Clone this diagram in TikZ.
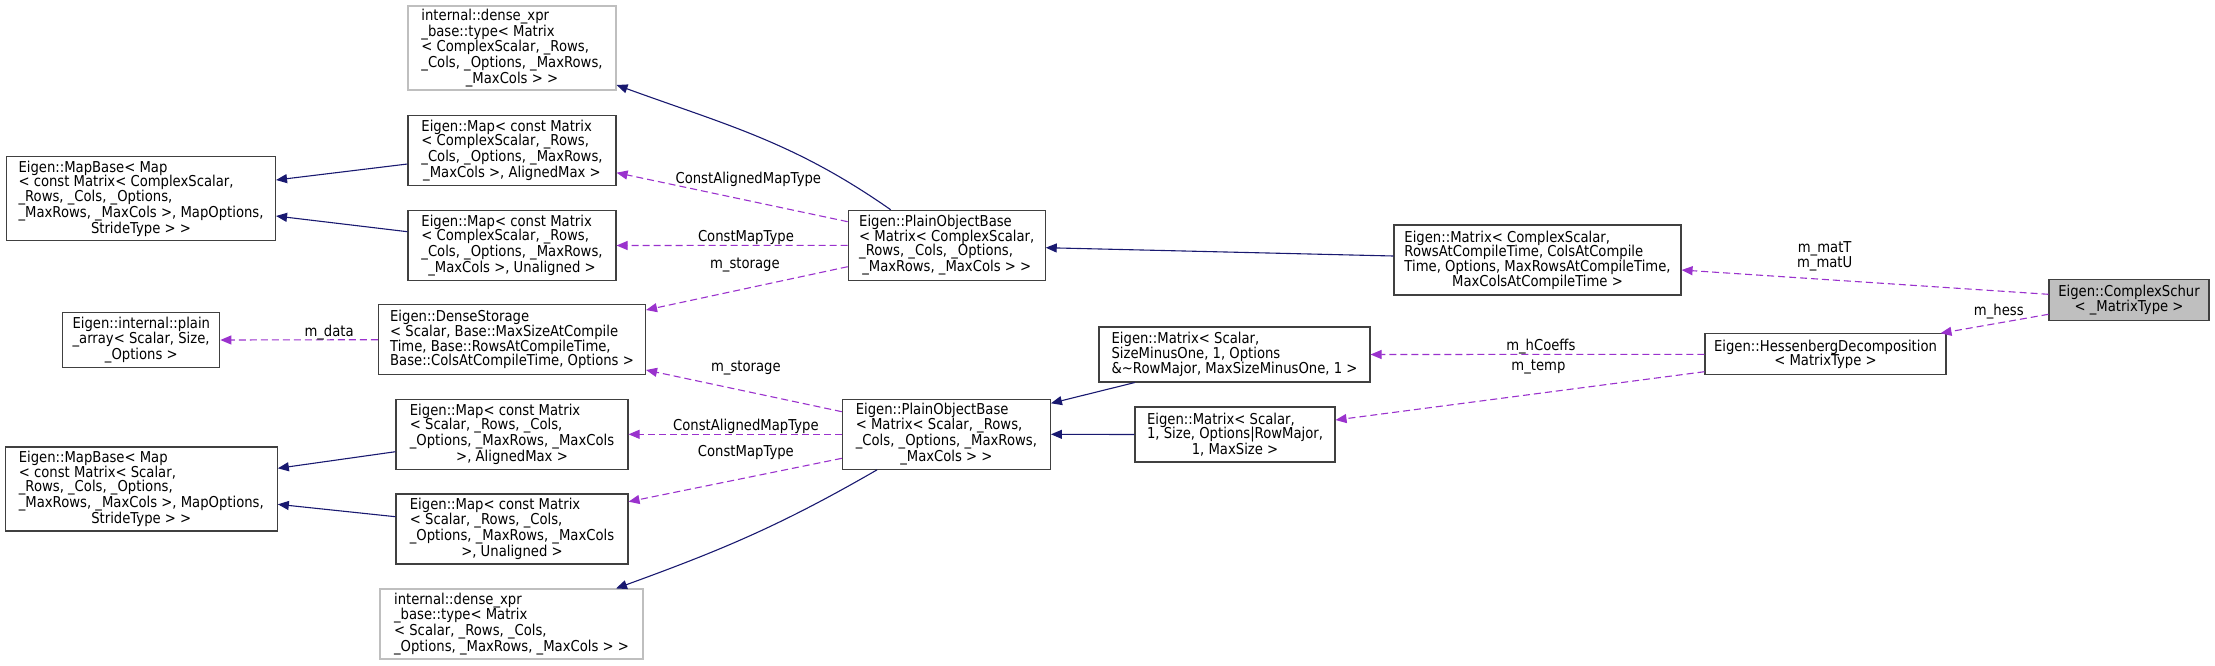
\documentclass[tikz,border=0pt]{standalone}
\usepackage{fontspec}
\setmainfont{DejaVu Sans}[FakeStretch=0.88]
\usetikzlibrary{arrows.meta}
\definecolor{inhblue}{HTML}{191970}
\definecolor{usepurple}{HTML}{9A32CD}
\definecolor{boxgray}{HTML}{BFBFBF}
\tikzset{
	classbox/.style={rectangle, draw=black!75, fill=white, line width=1.1pt, align=left,
		font=\fontsize{15}{14.7}\selectfont, inner sep=2pt},
	extbox/.style={classbox, draw=boxgray},
	focusbox/.style={classbox, fill=boxgray},
	inharr/.style={-{Triangle[length=11pt,width=9pt]}, inhblue, line width=1.1pt},
	usearr/.style={-{Triangle[length=11pt,width=9pt]}, usepurple, line width=1.1pt, dash pattern=on 7pt off 4pt},
	elabel/.style={font=\fontsize{15}{14.7}\selectfont, inner sep=0pt, align=center, text=black}
}

\begin{document}
\begin{tikzpicture}[x=1pt, y=-1pt]
	\useasboundingbox (0,0) rectangle (2215,665);
	% left column
	\node[classbox, minimum width=269pt, minimum height=84pt] (mapbase1) at (141,198.7) {Eigen::MapBase< Map\\< const Matrix< ComplexScalar,\\\_Rows, \_Cols, \_Options,\\\_MaxRows, \_MaxCols >, MapOptions,\\\hfill StrideType > >\hfill\null};
	\node[classbox, minimum width=157pt, minimum height=55pt] (plain) at (141.3,340) {Eigen::internal::plain\\\_array< Scalar, Size,\\\hfill\_Options >\hfill\null};
	\node[classbox, minimum width=272pt, minimum height=84pt] (mapbase2) at (141.3,489) {Eigen::MapBase< Map\\< const Matrix< Scalar,\\\_Rows, \_Cols, \_Options,\\\_MaxRows, \_MaxCols >, MapOptions,\\\hfill StrideType > >\hfill\null};
	% second column
	\node[extbox, minimum width=208pt, minimum height=84pt] (denseTop) at (512,48) {internal::dense\_xpr\\\_base::type< Matrix\\< ComplexScalar, \_Rows,\\\_Cols, \_Options, \_MaxRows,\\\hfill\_MaxCols > >\hfill\null};
	\node[classbox, minimum width=208pt, minimum height=70pt] (map1) at (512,150.5) {Eigen::Map< const Matrix\\< ComplexScalar, \_Rows,\\\_Cols, \_Options, \_MaxRows,\\\hfill\_MaxCols >, AlignedMax >\hfill\null};
	\node[classbox, minimum width=208pt, minimum height=70pt] (map2) at (512,245.5) {Eigen::Map< const Matrix\\< ComplexScalar, \_Rows,\\\_Cols, \_Options, \_MaxRows,\\\hfill\_MaxCols >, Unaligned >\hfill\null};
	\node[classbox, minimum width=267pt, minimum height=70pt] (storage) at (512,339.7) {Eigen::DenseStorage\\< Scalar, Base::MaxSizeAtCompile\\Time, Base::RowsAtCompileTime,\\\hfill Base::ColsAtCompileTime, Options >\hfill\null};
	\node[classbox, minimum width=232pt, minimum height=70pt] (map3) at (512,434.3) {Eigen::Map< const Matrix\\< Scalar, \_Rows, \_Cols,\\\_Options, \_MaxRows, \_MaxCols\\\hfill>, AlignedMax >\hfill\null};
	\node[classbox, minimum width=232pt, minimum height=70pt] (map4) at (512,529) {Eigen::Map< const Matrix\\< Scalar, \_Rows, \_Cols,\\\_Options, \_MaxRows, \_MaxCols\\\hfill>, Unaligned >\hfill\null};
	\node[extbox, minimum width=263pt, minimum height=70pt] (denseBot) at (511.5,624) {internal::dense\_xpr\\\_base::type< Matrix\\< Scalar, \_Rows, \_Cols,\\\hfill\_Options, \_MaxRows, \_MaxCols > >\hfill\null};
	% plain object bases
	\node[classbox, minimum width=197pt, minimum height=70pt] (pob1) at (946.7,245.3) {Eigen::PlainObjectBase\\< Matrix< ComplexScalar,\\\_Rows, \_Cols, \_Options,\\\hfill\_MaxRows, \_MaxCols > >\hfill\null};
	\node[classbox, minimum width=208pt, minimum height=70pt] (pob2) at (946.4,434.3) {Eigen::PlainObjectBase\\< Matrix< Scalar, \_Rows,\\\_Cols, \_Options, \_MaxRows,\\\hfill\_MaxCols > >\hfill\null};
	% matrices
	\node[classbox, minimum width=287pt, minimum height=70pt] (matCS) at (1537.5,260) {Eigen::Matrix< ComplexScalar,\\RowsAtCompileTime, ColsAtCompile\\Time, Options, MaxRowsAtCompileTime,\\\hfill MaxColsAtCompileTime >\hfill\null};
	\node[classbox, minimum width=271pt, minimum height=55pt] (matSMO) at (1234.5,354.5) {Eigen::Matrix< Scalar,\\SizeMinusOne, 1, Options\\\hfill\&\textasciitilde RowMajor, MaxSizeMinusOne, 1 >\hfill\null};
	\node[classbox, minimum width=200pt, minimum height=55pt] (matRow) at (1235,434.5) {Eigen::Matrix< Scalar,\\1, Size, Options\textbar RowMajor,\\\hfill 1, MaxSize >\hfill\null};
	\node[classbox, minimum width=241pt, minimum height=41pt] (hess) at (1825.5,354.3) {Eigen::HessenbergDecomposition\\\hfill< MatrixType >\hfill\null};
	\node[focusbox, minimum width=160pt, minimum height=41pt] (schur) at (2129,300) {Eigen::ComplexSchur\\\hfill< \_MatrixType >\hfill\null};

	% inheritance
	\draw[inharr] ([xshift=-56pt]pob1.north) to[out=145, in=-20] ([yshift=-37pt]denseTop.east);
	\draw[inharr] ([yshift=-13.5pt]map1.west) -- ([yshift=18.7pt]mapbase1.east);
	\draw[inharr] ([yshift=13.8pt]map2.west) -- ([yshift=-17.3pt]mapbase1.east);
	\draw[inharr] ([yshift=4pt]matCS.west) -- ([yshift=-2.4pt]pob1.east);
	\draw[inharr] ([yshift=-17.4pt]map3.west) -- ([yshift=20.7pt]mapbase2.east);
	\draw[inharr] ([yshift=12.3pt]map4.west) -- ([yshift=-15.3pt]mapbase2.east);
	\draw[inharr] ([xshift=-99.8pt]matSMO.south) -- ([yshift=31pt]pob2.east);
	\draw[inharr] (matRow.west) -- (pob2.east);
	\draw[inharr] ([xshift=-69.4pt]pob2.south) to[out=-150, in=20] ([xshift=104.5pt]denseBot.north);

	% members
	\draw[usearr] ([yshift=23.6pt]pob1.west) -- node[elabel, pos=0.43, yshift=20.8pt] {ConstAlignedMapType} ([yshift=-22.2pt]map1.east);
	\draw[usearr] (pob1.west) -- node[elabel, pos=0.44, yshift=8pt] {ConstMapType} (map2.east);
	\draw[usearr] ([yshift=-21.4pt]pob1.west) -- node[elabel, pos=0.51, yshift=23.7pt] {m\_storage} ([yshift=29.7pt]storage.east);
	\draw[usearr] (storage.west) -- node[elabel, pos=0.31, yshift=7.6pt] {m\_data} (plain.east);
	\draw[usearr] ([yshift=22.6pt]pob2.west) -- node[elabel, pos=0.49, yshift=23.4pt] {m\_storage} ([yshift=-30.3pt]storage.east);
	\draw[usearr] (pob2.west) -- node[elabel, pos=0.45, yshift=7.6pt] {ConstAlignedMapType} (map3.east);
	\draw[usearr] ([yshift=-24pt]pob2.west) -- node[elabel, pos=0.45, yshift=24.9pt] {ConstMapType} ([yshift=27.3pt]map4.east);
	\draw[usearr] ([yshift=5.7pt]schur.west) -- node[elabel, pos=0.61, yshift=23.1pt] {m\_matT\\m\_matU} ([yshift=-10pt]matCS.east);
	\draw[usearr] ([yshift=-14.3pt]schur.west) -- node[elabel, pos=0.46, yshift=11.3pt] {m\_hess} ([xshift=115pt]hess.north);
	\draw[usearr] (hess.west) -- node[elabel, pos=0.49, yshift=7.6pt] {m\_hCoeffs} (matSMO.east);
	\draw[usearr] ([yshift=-17.4pt]hess.west) -- node[elabel, pos=0.45, yshift=26.2pt] {m\_temp} ([yshift=14.5pt]matRow.east);
\end{tikzpicture}
\end{document}
